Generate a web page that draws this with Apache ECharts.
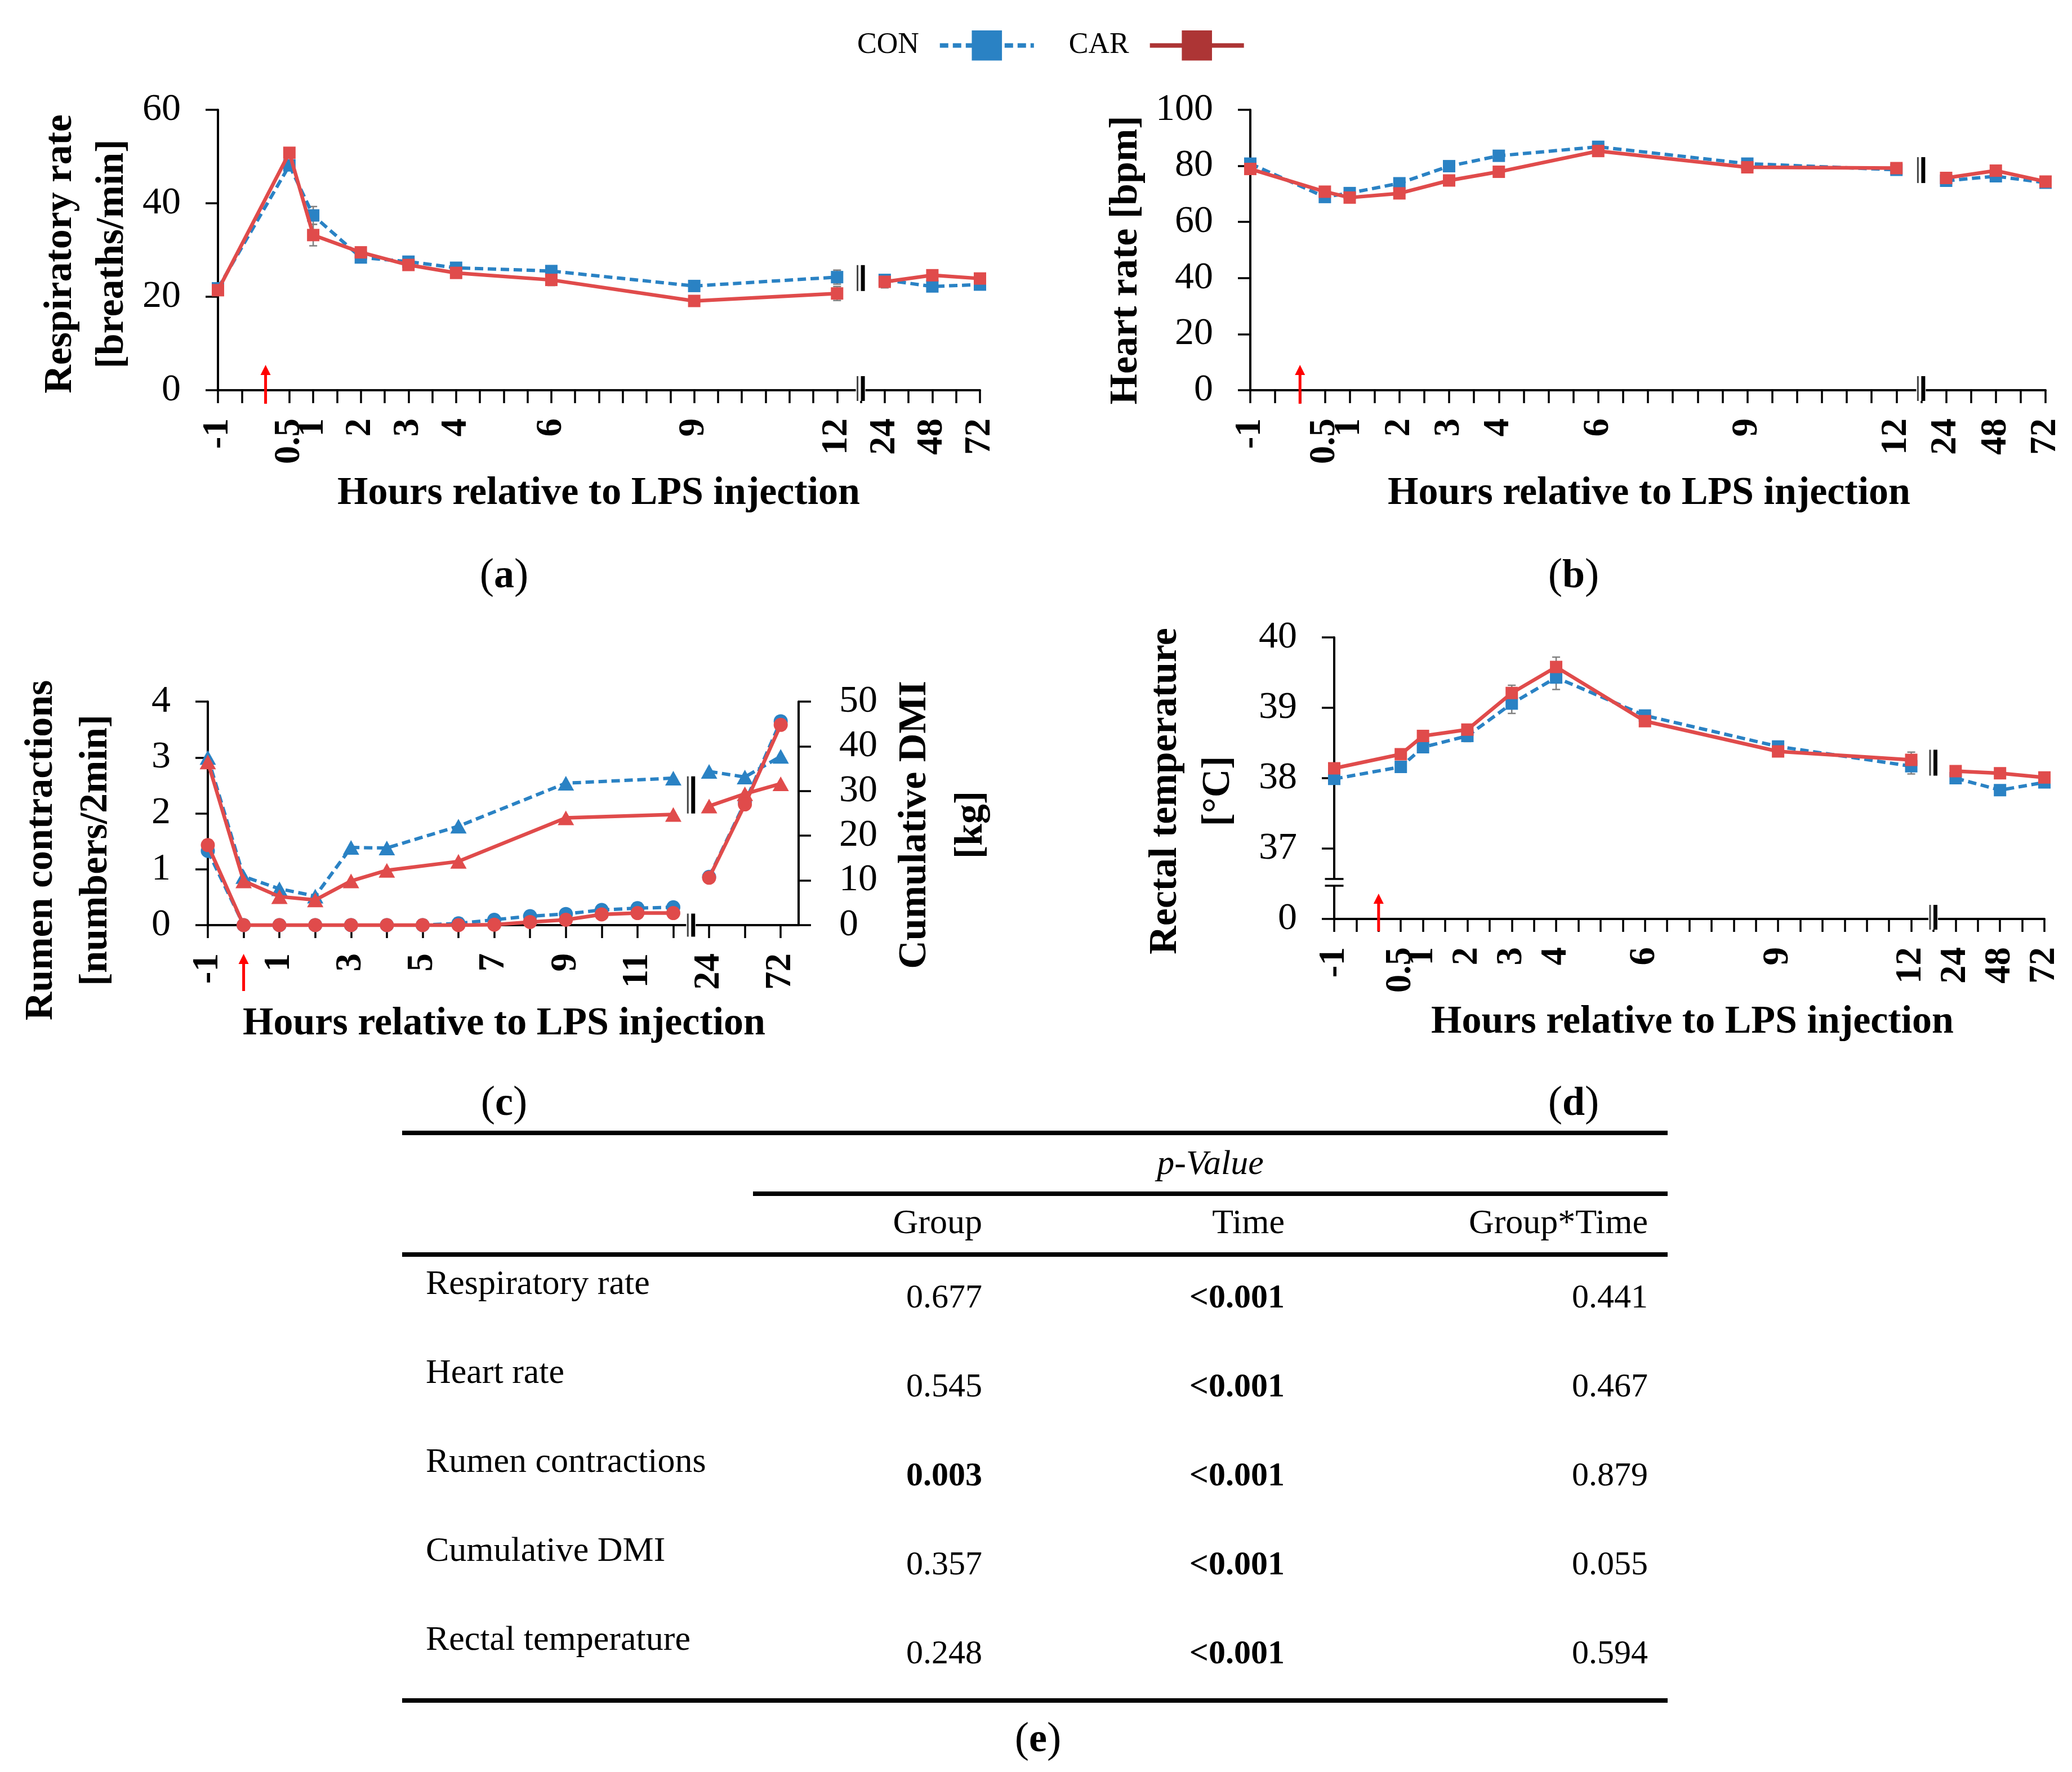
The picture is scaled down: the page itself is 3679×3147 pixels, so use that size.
<!DOCTYPE html>
<html><head><meta charset="utf-8">
<script src="https://cdn.jsdelivr.net/npm/echarts@6/dist/echarts.min.js"></script>
<style>html,body{margin:0;padding:0;background:#fff}#c{width:3679px;height:3147px}</style>
</head><body><div id="c"></div>
<script>
// ---------------- DATA ----------------
const TIMES_ABD = [-1, 0.5, 1, 2, 3, 4, 6, 9, 12, 24, 48, 72];
const RESP_CON = [21.8, 48.1, 37.4, 28.4, 27.5, 26.2, 25.5, 22.3, 24.2, 23.6, 22.2, 22.6];
const RESP_CAR = [21.4, 50.8, 33.2, 29.5, 26.8, 25.1, 23.6, 19.1, 20.7, 23.2, 24.6, 23.9];
const RESP_CON_SE = [0.5, 1.0, 1.9, 0.8, 0.7, 0.8, 0.8, 0.8, 1.5, 0.9, 0.7, 0.6];
const RESP_CAR_SE = [0.5, 1.0, 2.3, 0.8, 0.7, 0.8, 1.2, 0.7, 1.5, 1.3, 0.8, 0.7];
const HR_CON = [80.8, 68.9, 70.3, 73.8, 79.9, 83.6, 86.8, 80.8, 78.6, 74.7, 76.3, 74.0];
const HR_CAR = [78.9, 70.8, 68.7, 70.2, 74.8, 77.9, 85.3, 79.5, 79.2, 75.7, 78.3, 74.4];
const HR_CON_SE = [1.5, 1.5, 1.5, 1.5, 1.5, 1.5, 1.5, 1.5, 1.5, 1.5, 1.5, 1.5];
const HR_CAR_SE = [1.5, 1.5, 1.5, 1.5, 1.5, 1.5, 1.5, 1.5, 1.5, 1.5, 1.5, 1.5];
const TEMP_CON = [37.99, 38.16, 38.44, 38.60, 39.06, 39.43, 38.89, 38.45, 38.17, 38.00, 37.83, 37.94];
const TEMP_CAR = [38.14, 38.34, 38.60, 38.69, 39.21, 39.58, 38.81, 38.38, 38.26, 38.10, 38.07, 38.01];
const TEMP_CON_SE = [0.05, 0.07, 0.07, 0.08, 0.14, 0.17, 0.05, 0.05, 0.11, 0.05, 0.05, 0.05];
const TEMP_CAR_SE = [0.05, 0.05, 0.05, 0.05, 0.11, 0.14, 0.05, 0.05, 0.11, 0.05, 0.04, 0.04];

const TIMES_RUMEN = [-1, 0, 1, 2, 3, 4, 6, 9, 12, 24, 48, 72];
const RUMEN_CON = [3.00, 0.87, 0.65, 0.52, 1.39, 1.38, 1.77, 2.54, 2.63, 2.75, 2.65, 3.02];
const RUMEN_CAR = [2.92, 0.79, 0.51, 0.45, 0.79, 0.98, 1.14, 1.92, 1.98, 2.13, 2.35, 2.53];
const TIMES_DMI = [-1, 0, 1, 2, 3, 4, 5, 6, 7, 8, 9, 10, 11, 12, 24, 48, 72];
const DMI_CON = [16.6, 0, 0, 0, 0, 0, 0, 0.4, 1.2, 2.0, 2.5, 3.4, 3.8, 4.0, 10.8, 27.4, 45.6];
const DMI_CAR = [17.9, 0, 0, 0, 0, 0, 0, 0, 0.1, 0.7, 1.2, 2.4, 2.7, 2.7, 10.6, 27.0, 44.8];

const TABLE_ROWS = ['Respiratory rate', 'Heart rate', 'Rumen contractions', 'Cumulative DMI', 'Rectal temperature'];
const TABLE_HEAD = ['Group', 'Time', 'Group*Time'];
const P_GROUP = ['0.677', '0.545', '0.003', '0.357', '0.248'];
const P_TIME = ['<0.001', '<0.001', '<0.001', '<0.001', '<0.001'];
const P_INTER = ['0.441', '0.467', '0.879', '0.055', '0.594'];

// ---------------- STYLE ----------------
const FONT = '"Liberation Serif", "Times New Roman", serif';
const BLUE = '#2A82C4', RED = '#E04B4B', RED_LEG = '#AD3535';

// axis slot scales (hours -> tick slot; break after 12 h)
function slotABD(h) { return h <= 12 ? 2 * (h + 1) : ({24: 28, 48: 30, 72: 32})[h]; }
function slotC(h) { return h <= 12 ? h + 1 : ({24: 14, 48: 15, 72: 16})[h]; }
const LABEL_ABD = {}; TIMES_ABD.forEach(h => { LABEL_ABD[slotABD(h)] = String(h); });
const C_HOURS = [-1,0,1,2,3,4,5,6,7,8,9,10,11,12,24,48,72];
const LABEL_C = {}; C_HOURS.forEach(h => { LABEL_C[slotC(h)] = String(h); });

const chart = echarts.init(document.getElementById('c'), null, {renderer: 'canvas', width: 3679, height: 3147});

const GRIDS = [
  {left: 387, top: 195, width: 1353, height: 498},
  {left: 2220, top: 195, width: 1412, height: 498},
  {left: 369, top: 1246, width: 1049, height: 397},
  {left: 2369, top: 1132, width: 1261, height: 500}
];

function xAx(grid, max, ticks, labels, lookup) {
  return {
    type: 'value', gridIndex: grid, min: 0, max: max, interval: 1,
    axisLine: {show: true, onZero: false, lineStyle: {color: '#000', width: 4}},
    axisTick: {show: true, length: 23, customValues: ticks, lineStyle: {color: '#000', width: 3.5}},
    axisLabel: {show: true, rotate: 90, margin: 50, customValues: labels,
      formatter: v => (lookup[v] !== undefined ? lookup[v] : ''),
      color: '#000', fontFamily: FONT, fontSize: 65, fontWeight: 'bold'},
    splitLine: {show: false}
  };
}
function yAx(grid, min, max, interval, pos, fmt, margin) {
  return {
    type: 'value', gridIndex: grid, min, max, interval, position: pos,
    axisLine: {show: true, onZero: false, lineStyle: {color: '#000', width: 4}},
    axisTick: {show: true, length: 22, lineStyle: {color: '#000', width: 3.5}},
    axisLabel: {show: true, margin: margin || 66, color: '#000', fontFamily: FONT, fontSize: 68,
      formatter: fmt || (v => String(v))},
    splitLine: {show: false}
  };
}
const range = n => Array.from({length: n + 1}, (_, i) => i);
const xAxes = [
  xAx(0, 32, range(32), TIMES_ABD.map(slotABD), LABEL_ABD),
  xAx(1, 32, range(32), TIMES_ABD.map(slotABD), LABEL_ABD),
  xAx(2, 16.5, range(16), [0, 2, 4, 6, 8, 10, 12, 14, 16], LABEL_C),
  xAx(3, 32, range(32), TIMES_ABD.map(slotABD), LABEL_ABD)
];
const yAxes = [
  yAx(0, 0, 60, 20, 'left'),
  yAx(1, 0, 100, 20, 'left'),
  yAx(2, 0, 4, 1, 'left'),
  yAx(2, 0, 50, 10, 'right', null, 72),
  yAx(3, 36, 40, 1, 'left', v => (v === 36 ? '0' : String(v)))
];

function mkLine(name, xi, yi, pts, color, dashed, symbol, size, z) {
  return {
    type: 'line', name, xAxisIndex: xi, yAxisIndex: yi, data: pts,
    symbol, symbolSize: size, showSymbol: true, showAllSymbol: true, clip: false,
    itemStyle: {color}, lineStyle: {color, width: dashed ? 6 : 6.5, type: dashed ? [15, 8] : 'solid'},
    z, animation: false, silent: true, emphasis: {disabled: true}
  };
}
function split(name, xi, yi, times, vals, slotFn, color, dashed, symbol, size, z) {
  const pre = [], post = [];
  times.forEach((h, i) => (h <= 12 ? pre : post).push([slotFn(h), vals[i]]));
  return [mkLine(name, xi, yi, pre, color, dashed, symbol, size, z),
          mkLine(name, xi, yi, post, color, dashed, symbol, size, z)];
}
function errSeries(xi, yi, times, vals, errs, slotFn) {
  return {
    type: 'custom', xAxisIndex: xi, yAxisIndex: yi, z: 1, silent: true, clip: false, animation: false,
    data: times.map((h, i) => [slotFn(h), vals[i], errs[i]]),
    renderItem(params, api) {
      const x = api.value(0), y = api.value(1), e = api.value(2);
      const t = api.coord([x, y + e]), b = api.coord([x, y - e]);
      const cw = 7, st = {stroke: '#808080', lineWidth: 2.5};
      return {type: 'group', children: [
        {type: 'line', shape: {x1: t[0], y1: t[1], x2: b[0], y2: b[1]}, style: st},
        {type: 'line', shape: {x1: t[0] - cw, y1: t[1], x2: t[0] + cw, y2: t[1]}, style: st},
        {type: 'line', shape: {x1: b[0] - cw, y1: b[1], x2: b[0] + cw, y2: b[1]}, style: st}
      ]};
    }
  };
}

const SQ = 22, TRI = [29, 26], CIR = 25;
const series = [
  errSeries(0, 0, TIMES_ABD, RESP_CON, RESP_CON_SE, slotABD),
  errSeries(0, 0, TIMES_ABD, RESP_CAR, RESP_CAR_SE, slotABD),
  ...split('CON', 0, 0, TIMES_ABD, RESP_CON, slotABD, BLUE, true, 'rect', SQ, 3),
  ...split('CAR', 0, 0, TIMES_ABD, RESP_CAR, slotABD, RED, false, 'rect', SQ, 4),
  errSeries(1, 1, TIMES_ABD, HR_CON, HR_CON_SE, slotABD),
  errSeries(1, 1, TIMES_ABD, HR_CAR, HR_CAR_SE, slotABD),
  ...split('CON', 1, 1, TIMES_ABD, HR_CON, slotABD, BLUE, true, 'rect', SQ, 3),
  ...split('CAR', 1, 1, TIMES_ABD, HR_CAR, slotABD, RED, false, 'rect', SQ, 4),
  ...split('CON', 2, 2, TIMES_RUMEN, RUMEN_CON, slotC, BLUE, true, 'triangle', TRI, 3),
  ...split('CON', 2, 3, TIMES_DMI, DMI_CON, slotC, BLUE, true, 'circle', CIR, 3),
  ...split('CAR', 2, 2, TIMES_RUMEN, RUMEN_CAR, slotC, RED, false, 'triangle', TRI, 4),
  ...split('CAR', 2, 3, TIMES_DMI, DMI_CAR, slotC, RED, false, 'circle', CIR, 4),
  errSeries(3, 4, TIMES_ABD, TEMP_CON, TEMP_CON_SE, slotABD),
  errSeries(3, 4, TIMES_ABD, TEMP_CAR, TEMP_CAR_SE, slotABD),
  ...split('CON', 3, 4, TIMES_ABD, TEMP_CON, slotABD, BLUE, true, 'rect', SQ, 3),
  ...split('CAR', 3, 4, TIMES_ABD, TEMP_CAR, slotABD, RED, false, 'rect', SQ, 4)
];

chart.setOption({
  backgroundColor: '#fff',
  animation: false,
  grid: GRIDS.map(g => Object.assign({containLabel: false, outerBoundsMode: 'none'}, g)),
  xAxis: xAxes,
  yAxis: yAxes,
  legend: {
    data: [{name: 'CON'}, {name: 'CAR', itemStyle: {color: RED_LEG}, lineStyle: {color: RED_LEG}}],
    left: 1517, top: 49, orient: 'horizontal', align: 'right',
    itemWidth: 167, itemHeight: 67, itemGap: 58, selectedMode: false,
    lineStyle: {width: 8},
    textStyle: {fontFamily: FONT, fontSize: 52, color: '#000', padding: [0, 32, 0, 0]}
  },
  series
});

// ---------------- GRAPHIC OVERLAYS ----------------
const P = (xi, yi, x, y) => chart.convertToPixel({xAxisIndex: xi, yAxisIndex: yi}, [x, y]);
const G = [];
function txt(x, y, text, o) {
  G.push({type: 'text', x, y, rotation: o.rot || 0, z: 60, silent: true,
    style: {text, fill: '#000', fontFamily: FONT, fontSize: o.size, fontWeight: o.weight || 'normal',
      fontStyle: o.italic ? 'italic' : 'normal', align: o.align || 'center', verticalAlign: 'middle',
      lineHeight: o.lh || undefined}});
}
function hRule(x1, x2, y, w) {
  G.push({type: 'rect', shape: {x: x1, y: y - w / 2, width: x2 - x1, height: w}, style: {fill: '#000'}, z: 60, silent: true});
}
function arrow(x, yTip, yBot) {
  G.push({type: 'line', shape: {x1: x, y1: yTip + 14, x2: x, y2: yBot}, style: {stroke: '#FF0000', lineWidth: 5}, z: 55, silent: true});
  G.push({type: 'polygon', shape: {points: [[x, yTip], [x - 9, yTip + 18], [x + 9, yTip + 18]]}, style: {fill: '#FF0000'}, z: 55, silent: true});
}
function vBreak(x, y, h) {
  G.push({type: 'rect', shape: {x: x - 9, y: y - h / 2, width: 17, height: h}, style: {fill: '#fff'}, z: 50, silent: true});
  G.push({type: 'line', shape: {x1: x - 6, y1: y - h / 2, x2: x - 6, y2: y + h / 2}, style: {stroke: '#444', lineWidth: 3}, z: 51, silent: true});
  G.push({type: 'line', shape: {x1: x + 3.5, y1: y - h / 2, x2: x + 3.5, y2: y + h / 2}, style: {stroke: '#000', lineWidth: 7}, z: 51, silent: true});
}
function hBreak(x, y, w) {
  G.push({type: 'rect', shape: {x: x - w / 2, y: y - 6, width: w, height: 12}, style: {fill: '#fff'}, z: 50, silent: true});
  G.push({type: 'line', shape: {x1: x - w / 2, y1: y - 6, x2: x + w / 2, y2: y - 6}, style: {stroke: '#000', lineWidth: 3.5}, z: 51, silent: true});
  G.push({type: 'line', shape: {x1: x - w / 2, y1: y + 6, x2: x + w / 2, y2: y + 6}, style: {stroke: '#000', lineWidth: 3.5}, z: 51, silent: true});
}

// LPS injection arrows (hour 0)
[[0, 0, 0], [1, 1, 0]].forEach(([xi, yi, y0v]) => {
  const p = P(xi, yi, slotABD(0), y0v); arrow(p[0], p[1] - 45, p[1] + 24);
});
{ const p = P(2, 2, slotC(0), 0); arrow(p[0], p[1] + 51, p[1] + 117); }
{ const p = P(3, 4, slotABD(0), 36); arrow(p[0], p[1] - 45, p[1] + 22); }

// axis breaks between 12 h and 24 h
const bAB = (slotABD(12) + slotABD(24)) / 2, bC = (slotC(12) + slotC(24)) / 2;
[[0, 0, 0, 24], [1, 1, 0, 78.5], [3, 4, 36, 38.22]].forEach(([xi, yi, base, mid]) => {
  const a = P(xi, yi, bAB, base); vBreak(a[0], a[1] - 3, 44);
  const m = P(xi, yi, bAB, mid); vBreak(m[0], m[1], 46);
});
{ const a = P(2, 2, bC, 0); vBreak(a[0], a[1], 41); const m = P(2, 2, bC, 2.33); vBreak(m[0], m[1], 66); }
{ const a = P(3, 4, 0, 36.52); hBreak(a[0], a[1], 33); }

// axis titles
const XT = 'Hours relative to LPS injection';
txt(1063, 877, XT, {size: 70, weight: 'bold'});
txt(2928, 877, XT, {size: 70, weight: 'bold'});
txt(895, 1819, XT, {size: 70, weight: 'bold'});
txt(3005, 1816, XT, {size: 70, weight: 'bold'});
const R = Math.PI / 2;
txt(154, 451, 'Respiratory rate\n[breaths/min]', {size: 70, weight: 'bold', rot: R, lh: 92});
txt(2000, 462, 'Heart rate [bpm]', {size: 70, weight: 'bold', rot: R});
txt(122, 1510, 'Rumen contractions\n[numbers/2min]', {size: 70, weight: 'bold', rot: R, lh: 97});
txt(1675, 1465, 'Cumulative DMI\n[kg]', {size: 70, weight: 'bold', rot: R, lh: 100});
txt(2117, 1405, 'Rectal temperature\n[°C]', {size: 70, weight: 'bold', rot: R, lh: 94});

// panel letters
[[895, 1024, 'a'], [2794, 1024, 'b'], [895, 1961, 'c'], [2794, 1961, 'd'], [1843, 3091, 'e']].forEach(([x, y, l]) => {
  G.push({type: 'text', x, y, z: 60, silent: true, style: {
    text: '{n|(}{b|' + l + '}{n|)}', align: 'center', verticalAlign: 'middle', fill: '#000',
    rich: {n: {fontFamily: FONT, fontSize: 76, fill: '#000'}, b: {fontFamily: FONT, fontSize: 72, fontWeight: 'bold', fill: '#000'}}}});
});

// table (e)
hRule(714, 2961, 2012, 8);
txt(2149, 2069, 'p-Value', {size: 62, italic: true});
hRule(1337, 2961, 2120, 8);
const COLX = [1744, 2281, 2926];
TABLE_HEAD.forEach((h, i) => txt(COLX[i], 2174, h, {size: 62, align: 'right'}));
hRule(714, 2961, 2228, 8);
const isSig = s => s.startsWith('<') || parseFloat(s) < 0.05;
TABLE_ROWS.forEach((r, k) => {
  const yl = 2282 + k * 158, yv = 2306 + k * 158;
  txt(756, yl, r, {size: 62, align: 'left'});
  [P_GROUP[k], P_TIME[k], P_INTER[k]].forEach((v, i) =>
    txt(COLX[i], yv, v, {size: 60, align: 'right', weight: isSig(v) ? 'bold' : 'normal'}));
});
hRule(714, 2961, 3020, 8);

chart.setOption({graphic: {elements: G}});
</script>
</body></html>
